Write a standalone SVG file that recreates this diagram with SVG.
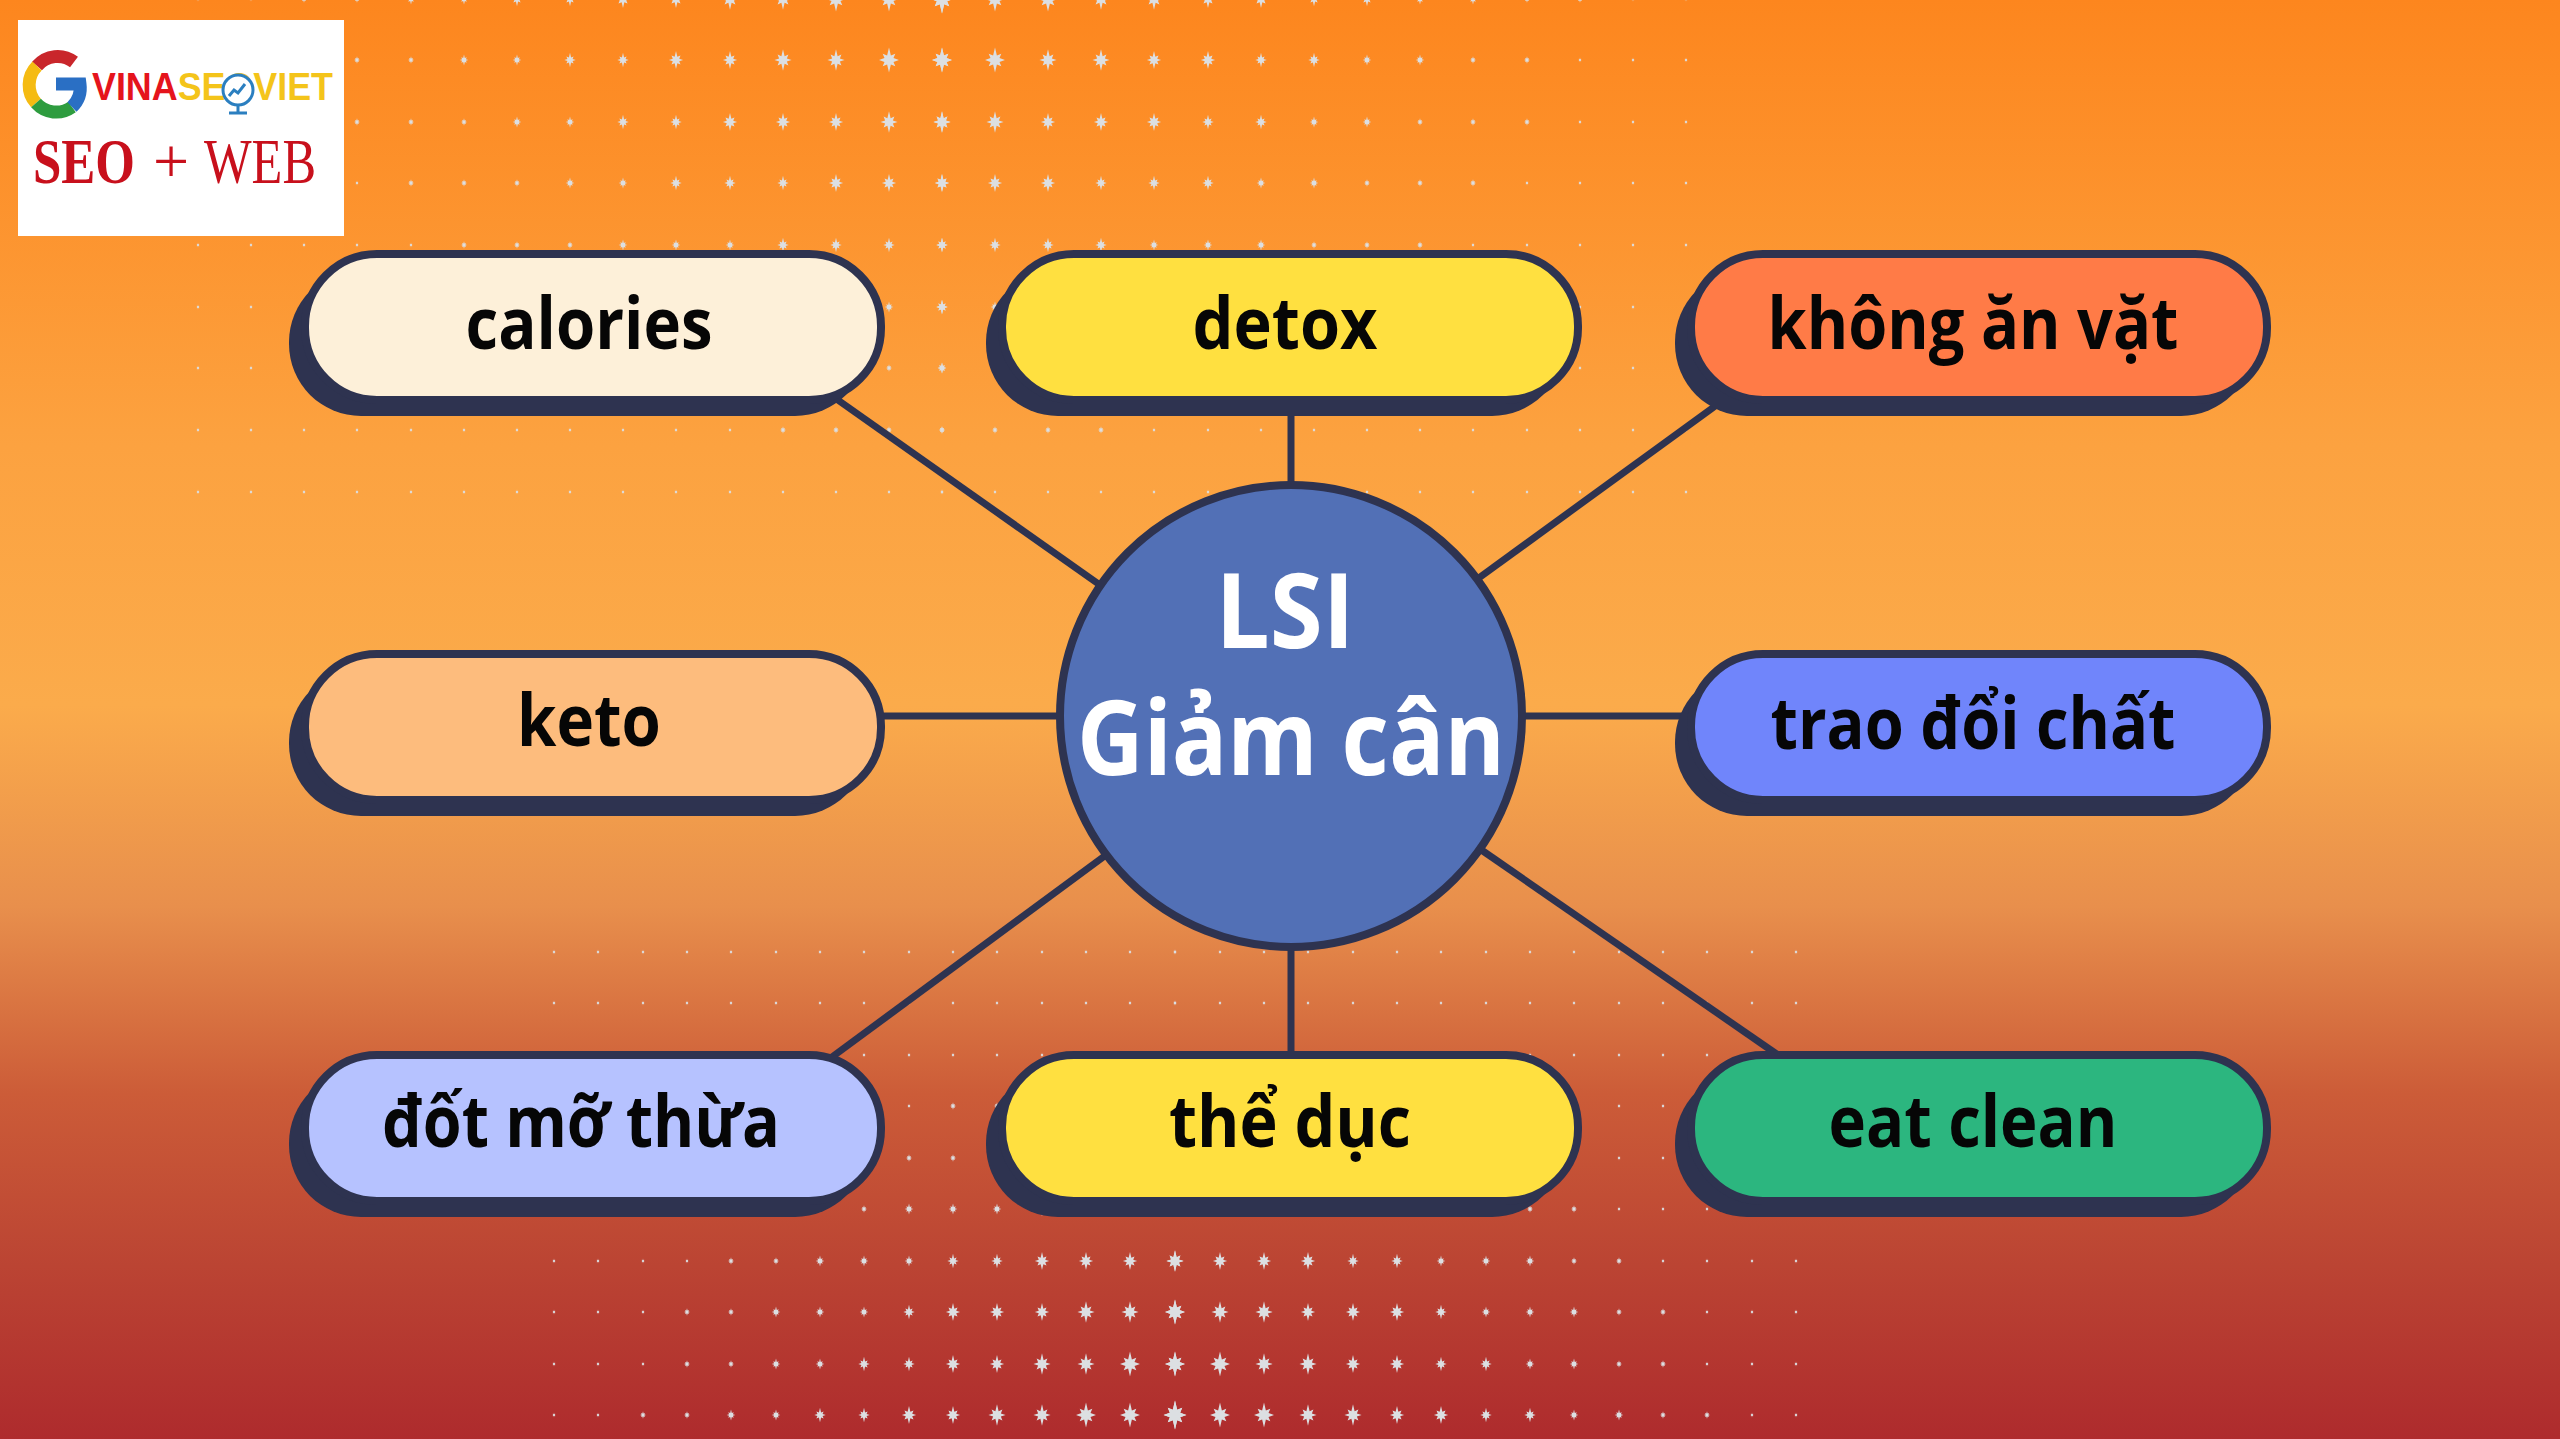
<svg xmlns="http://www.w3.org/2000/svg" width="2560" height="1439" viewBox="0 0 2560 1439">
<style>
.edge{stroke:#2e3350;stroke-width:7;fill:none}
.pill{stroke:#2e3350;stroke-width:8}
.shadow{fill:#2e3350}
.lbl{font-family:"Open Sans","Noto Sans",sans-serif;font-weight:700;font-size:72px;fill:#060606;text-anchor:middle;lengthAdjust:spacingAndGlyphs}
.hub{font-family:"Open Sans","Noto Sans",sans-serif;font-weight:700;font-size:104px;fill:#fff;text-anchor:middle}
.arc{fill:none;stroke-width:13}
</style>
<defs>
<linearGradient id="bg" x1="0" y1="0" x2="0" y2="1">
<stop offset="0" stop-color="#fd861e"/><stop offset=".31" stop-color="#fca240"/><stop offset=".49" stop-color="#fbab4b"/><stop offset=".63" stop-color="#e88f4c"/><stop offset=".76" stop-color="#cc5c38"/><stop offset=".88" stop-color="#bb4433"/><stop offset="1" stop-color="#ae2b2d"/>
</linearGradient>
<polygon id="st" fill="#dcdfe2" points="0,-1.2 .18,-.43 .6,-.6 .43,-.18 .95,0 .43,.18 .6,.6 .18,.43 0,1.2 -.18,.43 -.6,.6 -.43,.18 -.95,0 -.43,-.18 -.6,-.6 -.18,-.43"/>
<use id="a" href="#st" transform="scale(2)"/>
<use id="b" href="#st" transform="scale(3.2)"/>
<use id="c" href="#st" transform="scale(4.5)"/>
<use id="d" href="#st" transform="scale(6)"/>
<use id="e" href="#st" transform="scale(7.5)"/>
<use id="f" href="#st" transform="scale(9)"/>
<use id="g" href="#st" transform="scale(10.5)"/>
<use id="h" href="#st" transform="scale(12)"/>
<g id="t0"><use href="#a" x="198"/><use href="#a" x="251"/><use href="#b" x="304"/><use href="#b" x="357"/><use href="#c" x="411"/><use href="#c" x="464"/><use href="#d" x="517"/><use href="#d" x="570"/><use href="#e" x="623"/><use href="#e" x="676"/><use href="#f" x="730"/><use href="#f" x="783"/><use href="#g" x="836"/><use href="#g" x="889"/><use href="#h" x="942"/></g>
<g id="t1"><use href="#a" x="198"/><use href="#a" x="251"/><use href="#a" x="304"/><use href="#b" x="357"/><use href="#b" x="411"/><use href="#c" x="464"/><use href="#c" x="517"/><use href="#d" x="570"/><use href="#d" x="623"/><use href="#e" x="676"/><use href="#e" x="730"/><use href="#f" x="783"/><use href="#f" x="836"/><use href="#g" x="889"/><use href="#g" x="942"/></g>
<g id="t2"><use href="#a" x="198"/><use href="#a" x="251"/><use href="#a" x="304"/><use href="#b" x="357"/><use href="#b" x="411"/><use href="#b" x="464"/><use href="#c" x="517"/><use href="#c" x="570"/><use href="#d" x="623"/><use href="#d" x="676"/><use href="#e" x="730"/><use href="#e" x="783"/><use href="#e" x="836"/><use href="#f" x="889"/><use href="#f" x="942"/></g>
<g id="t3"><use href="#a" x="198"/><use href="#a" x="251"/><use href="#a" x="304"/><use href="#a" x="357"/><use href="#b" x="411"/><use href="#b" x="464"/><use href="#b" x="517"/><use href="#c" x="570"/><use href="#c" x="623"/><use href="#d" x="676"/><use href="#d" x="730"/><use href="#d" x="783"/><use href="#e" x="836"/><use href="#e" x="889"/><use href="#e" x="942"/></g>
<g id="t4"><use href="#a" x="198"/><use href="#a" x="251"/><use href="#a" x="304"/><use href="#a" x="357"/><use href="#a" x="411"/><use href="#b" x="464"/><use href="#b" x="517"/><use href="#b" x="570"/><use href="#c" x="623"/><use href="#c" x="676"/><use href="#c" x="730"/><use href="#d" x="783"/><use href="#d" x="836"/><use href="#d" x="889"/><use href="#d" x="942"/></g>
<g id="t5"><use href="#a" x="198"/><use href="#a" x="251"/><use href="#a" x="304"/><use href="#a" x="357"/><use href="#a" x="411"/><use href="#a" x="464"/><use href="#b" x="517"/><use href="#b" x="570"/><use href="#b" x="623"/><use href="#b" x="676"/><use href="#c" x="730"/><use href="#c" x="783"/><use href="#c" x="836"/><use href="#c" x="889"/><use href="#d" x="942"/></g>
<g id="t6"><use href="#a" x="198"/><use href="#a" x="251"/><use href="#a" x="304"/><use href="#a" x="357"/><use href="#a" x="411"/><use href="#a" x="464"/><use href="#a" x="517"/><use href="#b" x="570"/><use href="#b" x="623"/><use href="#b" x="676"/><use href="#b" x="730"/><use href="#b" x="783"/><use href="#b" x="836"/><use href="#b" x="889"/><use href="#c" x="942"/></g>
<g id="t7"><use href="#a" x="198"/><use href="#a" x="251"/><use href="#a" x="304"/><use href="#a" x="357"/><use href="#a" x="411"/><use href="#a" x="464"/><use href="#a" x="517"/><use href="#a" x="570"/><use href="#a" x="623"/><use href="#a" x="676"/><use href="#a" x="730"/><use href="#b" x="783"/><use href="#b" x="836"/><use href="#b" x="889"/><use href="#b" x="942"/></g>
<g id="t8"><use href="#a" x="198"/><use href="#a" x="251"/><use href="#a" x="304"/><use href="#a" x="357"/><use href="#a" x="411"/><use href="#a" x="464"/><use href="#a" x="517"/><use href="#a" x="570"/><use href="#a" x="623"/><use href="#a" x="676"/><use href="#a" x="730"/><use href="#a" x="783"/><use href="#a" x="836"/><use href="#a" x="889"/><use href="#a" x="942"/></g>
<g id="b9"><use href="#a" x="554"/><use href="#a" x="598"/><use href="#b" x="643"/><use href="#b" x="687"/><use href="#c" x="731"/><use href="#c" x="776"/><use href="#d" x="820"/><use href="#d" x="864"/><use href="#e" x="909"/><use href="#e" x="953"/><use href="#f" x="997"/><use href="#f" x="1042"/><use href="#g" x="1086"/><use href="#g" x="1130"/><use href="#h" x="1175"/></g>
<g id="b8"><use href="#a" x="554"/><use href="#a" x="598"/><use href="#a" x="643"/><use href="#b" x="687"/><use href="#b" x="731"/><use href="#c" x="776"/><use href="#c" x="820"/><use href="#d" x="864"/><use href="#d" x="909"/><use href="#e" x="953"/><use href="#e" x="997"/><use href="#f" x="1042"/><use href="#f" x="1086"/><use href="#g" x="1130"/><use href="#g" x="1175"/></g>
<g id="b7"><use href="#a" x="554"/><use href="#a" x="598"/><use href="#a" x="643"/><use href="#b" x="687"/><use href="#b" x="731"/><use href="#c" x="776"/><use href="#c" x="820"/><use href="#c" x="864"/><use href="#d" x="909"/><use href="#e" x="953"/><use href="#e" x="997"/><use href="#e" x="1042"/><use href="#f" x="1086"/><use href="#f" x="1130"/><use href="#g" x="1175"/></g>
<g id="b6"><use href="#a" x="554"/><use href="#a" x="598"/><use href="#a" x="643"/><use href="#a" x="687"/><use href="#b" x="731"/><use href="#b" x="776"/><use href="#c" x="820"/><use href="#c" x="864"/><use href="#c" x="909"/><use href="#d" x="953"/><use href="#d" x="997"/><use href="#e" x="1042"/><use href="#e" x="1086"/><use href="#e" x="1130"/><use href="#f" x="1175"/></g>
<g id="b5"><use href="#a" x="554"/><use href="#a" x="598"/><use href="#a" x="643"/><use href="#a" x="687"/><use href="#a" x="731"/><use href="#b" x="776"/><use href="#b" x="820"/><use href="#b" x="864"/><use href="#c" x="909"/><use href="#c" x="953"/><use href="#c" x="997"/><use href="#d" x="1042"/><use href="#d" x="1086"/><use href="#d" x="1130"/><use href="#d" x="1175"/></g>
<g id="b4"><use href="#a" x="554"/><use href="#a" x="598"/><use href="#a" x="643"/><use href="#a" x="687"/><use href="#a" x="731"/><use href="#a" x="776"/><use href="#a" x="820"/><use href="#b" x="864"/><use href="#b" x="909"/><use href="#b" x="953"/><use href="#b" x="997"/><use href="#c" x="1042"/><use href="#c" x="1086"/><use href="#c" x="1130"/><use href="#c" x="1175"/></g>
<g id="b3"><use href="#a" x="554"/><use href="#a" x="598"/><use href="#a" x="643"/><use href="#a" x="687"/><use href="#a" x="731"/><use href="#a" x="776"/><use href="#a" x="820"/><use href="#a" x="864"/><use href="#a" x="909"/><use href="#b" x="953"/><use href="#b" x="997"/><use href="#b" x="1042"/><use href="#b" x="1086"/><use href="#b" x="1130"/><use href="#b" x="1175"/></g>
<g id="b0"><use href="#a" x="554"/><use href="#a" x="598"/><use href="#a" x="643"/><use href="#a" x="687"/><use href="#a" x="731"/><use href="#a" x="776"/><use href="#a" x="820"/><use href="#a" x="864"/><use href="#a" x="909"/><use href="#a" x="953"/><use href="#a" x="997"/><use href="#a" x="1042"/><use href="#a" x="1086"/><use href="#a" x="1130"/><use href="#a" x="1175"/></g>
</defs>
<rect width="2560" height="1439" fill="url(#bg)"/>
<g id="dots-top">
<use href="#t0" y="-1"/><use href="#t0" transform="matrix(-1 0 0 1 1884 -1)"/>
<use href="#t1" y="60"/><use href="#t1" transform="matrix(-1 0 0 1 1884 60)"/>
<use href="#t2" y="122"/><use href="#t2" transform="matrix(-1 0 0 1 1884 122)"/>
<use href="#t3" y="183"/><use href="#t3" transform="matrix(-1 0 0 1 1884 183)"/>
<use href="#t4" y="245"/><use href="#t4" transform="matrix(-1 0 0 1 1884 245)"/>
<use href="#t5" y="307"/><use href="#t5" transform="matrix(-1 0 0 1 1884 307)"/>
<use href="#t6" y="368"/><use href="#t6" transform="matrix(-1 0 0 1 1884 368)"/>
<use href="#t7" y="430"/><use href="#t7" transform="matrix(-1 0 0 1 1884 430)"/>
<use href="#t8" y="492"/><use href="#t8" transform="matrix(-1 0 0 1 1884 492)"/>
</g>
<g id="dots-bottom">
<use href="#b0" y="952"/><use href="#b0" transform="matrix(-1 0 0 1 2350 952)"/>
<use href="#b0" y="1003"/><use href="#b0" transform="matrix(-1 0 0 1 2350 1003)"/>
<use href="#b0" y="1055"/><use href="#b0" transform="matrix(-1 0 0 1 2350 1055)"/>
<use href="#b3" y="1106"/><use href="#b3" transform="matrix(-1 0 0 1 2350 1106)"/>
<use href="#b4" y="1158"/><use href="#b4" transform="matrix(-1 0 0 1 2350 1158)"/>
<use href="#b5" y="1209"/><use href="#b5" transform="matrix(-1 0 0 1 2350 1209)"/>
<use href="#b6" y="1261"/><use href="#b6" transform="matrix(-1 0 0 1 2350 1261)"/>
<use href="#b7" y="1312"/><use href="#b7" transform="matrix(-1 0 0 1 2350 1312)"/>
<use href="#b8" y="1364"/><use href="#b8" transform="matrix(-1 0 0 1 2350 1364)"/>
<use href="#b9" y="1415"/><use href="#b9" transform="matrix(-1 0 0 1 2350 1415)"/>
</g>
<g id="connectors">
<line class="edge" x1="835" y1="398" x2="1100" y2="585"/>
<line class="edge" x1="1291" y1="410" x2="1291" y2="490"/>
<line class="edge" x1="1718" y1="404" x2="1476" y2="580"/>
<line class="edge" x1="880" y1="716" x2="1060" y2="716"/>
<line class="edge" x1="1520" y1="716" x2="1685" y2="716"/>
<line class="edge" x1="832" y1="1057" x2="1106" y2="855"/>
<line class="edge" x1="1291" y1="945" x2="1291" y2="1058"/>
<line class="edge" x1="1778" y1="1055" x2="1480" y2="849"/>
</g>
<g id="logo">
<rect x="18" y="20" width="326" height="216" fill="#fff"/>
<path class="arc" stroke="#c9262b" d="M74 62A27 27 0 0 0 37 66"/>
<path class="arc" stroke="#f5bb12" d="M37 66A27 27 0 0 0 36 103"/>
<path class="arc" stroke="#2e9c3f" d="M36 103A27 27 0 0 0 72 107"/>
<path class="arc" stroke="#2a6fc4" d="M72 107A27 27 0 0 0 80 84H56"/>
<text x="92" y="100" font-family="'Liberation Sans',sans-serif" font-weight="700" font-size="38" textLength="241" lengthAdjust="spacingAndGlyphs"><tspan fill="#e5141c">VINA</tspan><tspan fill="#f4c41a">SEO</tspan><tspan fill="#f4c41a">VIET</tspan></text>
<circle cx="238" cy="90" r="15" fill="#fff" stroke="#2b7fc0" stroke-width="3"/>
<path d="M229 96l5-6 4 3 7-9M238 105v7M229 113h18" fill="none" stroke="#2b7fc0" stroke-width="3"/>
<text x="33" y="183" font-family="'Liberation Serif',serif" font-size="64" font-weight="700" fill="#c8101c" textLength="102" lengthAdjust="spacingAndGlyphs">SEO</text>
<text x="153" y="183" font-family="'Liberation Serif',serif" font-size="64" fill="#c8101c">+</text>
<text x="204" y="183" font-family="'Liberation Serif',serif" font-size="64" fill="#c8101c" textLength="112" lengthAdjust="spacingAndGlyphs">WEB</text>
</g>
<g id="node-calories"><rect class="shadow" x="289" y="270" width="578" height="146" rx="72"/><rect class="pill" fill="#fdf0d9" x="305" y="254" width="576" height="146" rx="72"/><text class="lbl" x="589" y="349" textLength="247" lengthAdjust="spacingAndGlyphs">calories</text></g>
<g id="node-detox"><rect class="shadow" x="986" y="270" width="578" height="146" rx="72"/><rect class="pill" fill="#ffe040" x="1002" y="254" width="576" height="146" rx="72"/><text class="lbl" x="1285" y="349" textLength="185" lengthAdjust="spacingAndGlyphs">detox</text></g>
<g id="node-khong-an-vat"><rect class="shadow" x="1675" y="270" width="578" height="146" rx="72"/><rect class="pill" fill="#ff7b47" x="1691" y="254" width="576" height="146" rx="72"/><text class="lbl" x="1973" y="349" textLength="411" lengthAdjust="spacingAndGlyphs">không ăn vặt</text></g>
<g id="node-keto"><rect class="shadow" x="289" y="670" width="578" height="146" rx="72"/><rect class="pill" fill="#fdbc7d" x="305" y="654" width="576" height="146" rx="72"/><text class="lbl" x="589" y="746" textLength="144" lengthAdjust="spacingAndGlyphs">keto</text></g>
<g id="node-trao-doi-chat"><rect class="shadow" x="1675" y="670" width="578" height="146" rx="72"/><rect class="pill" fill="#7085fb" x="1691" y="654" width="576" height="146" rx="72"/><text class="lbl" x="1973" y="749" textLength="405" lengthAdjust="spacingAndGlyphs">trao đổi chất</text></g>
<g id="node-dot-mo-thua"><rect class="shadow" x="289" y="1071" width="578" height="146" rx="72"/><rect class="pill" fill="#b6c2ff" x="305" y="1055" width="576" height="146" rx="72"/><text class="lbl" x="581" y="1147" textLength="398" lengthAdjust="spacingAndGlyphs">đốt mỡ thừa</text></g>
<g id="node-the-duc"><rect class="shadow" x="986" y="1071" width="578" height="146" rx="72"/><rect class="pill" fill="#ffe040" x="1002" y="1055" width="576" height="146" rx="72"/><text class="lbl" x="1290" y="1147" textLength="242" lengthAdjust="spacingAndGlyphs">thể dục</text></g>
<g id="node-eat-clean"><rect class="shadow" x="1675" y="1071" width="578" height="146" rx="72"/><rect class="pill" fill="#2cb67f" x="1691" y="1055" width="576" height="146" rx="72"/><text class="lbl" x="1973" y="1147" textLength="289" lengthAdjust="spacingAndGlyphs">eat clean</text></g>
<g id="node-hub"><circle cx="1291" cy="716" r="231" fill="#5270b6" stroke="#2e3350" stroke-width="8"/><text class="hub" x="1285" y="648" textLength="139" lengthAdjust="spacingAndGlyphs">LSI</text><text class="hub" x="1291" y="775" textLength="428" lengthAdjust="spacingAndGlyphs">Giảm cân</text></g>
</svg>
